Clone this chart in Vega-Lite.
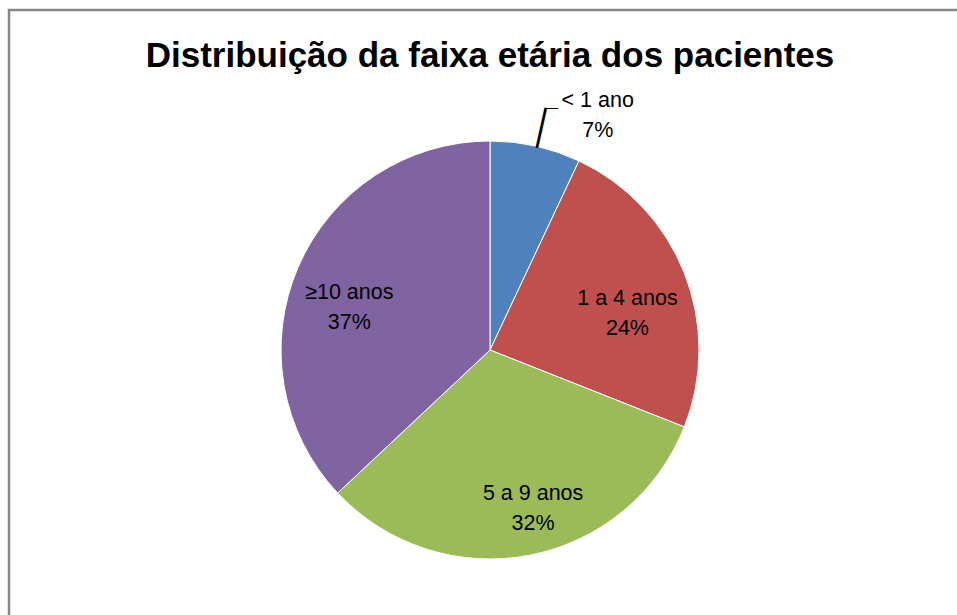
{
  "$schema": "https://vega.github.io/schema/vega-lite/v6.json",
  "autosize": {"type": "none"},
  "padding": {"left": 9, "top": 10, "right": -14, "bottom": -75},
  "width": 962,
  "height": 680,
  "background": "white",
  "view": {"stroke": "#868686", "strokeWidth": 2.5, "fill": "white"},
  "title": {
    "text": "Distribuição da faixa etária dos pacientes",
    "font": "Liberation Sans",
    "fontSize": 35,
    "fontWeight": "bold",
    "color": "#000000",
    "anchor": "middle",
    "frame": "group",
    "baseline": "alphabetic",
    "offset": -92
  },
  "data": {
    "values": [
      {"faixa": "< 1 ano", "pct": 7, "order": 1, "rotulo": "< 1 ano\n7%"},
      {"faixa": "1 a 4 anos", "pct": 24, "order": 2, "rotulo": "1 a 4 anos\n24%"},
      {"faixa": "5 a 9 anos", "pct": 32, "order": 3, "rotulo": "5 a 9 anos\n32%"},
      {"faixa": "≥10 anos", "pct": 37, "order": 4, "rotulo": "≥10 anos\n37%"}
    ]
  },
  "encoding": {
    "theta": {"field": "pct", "type": "quantitative", "stack": true},
    "order": {"field": "order", "type": "quantitative"}
  },
  "layer": [
    {
      "mark": {"type": "arc", "outerRadius": 209, "stroke": "white", "strokeWidth": 1},
      "encoding": {
        "color": {
          "field": "faixa",
          "type": "nominal",
          "legend": null,
          "scale": {
            "domain": ["< 1 ano", "1 a 4 anos", "5 a 9 anos", "≥10 anos"],
            "range": ["#4F81BD", "#C0504D", "#9BBB59", "#8064A2"]
          }
        }
      }
    },
    {
      "mark": {
        "type": "text",
        "radius": 150,
        "font": "Liberation Sans",
        "fontSize": 21.5,
        "lineHeight": 30,
        "lineBreak": "\n",
        "color": "#000000",
        "align": "center",
        "baseline": "middle",
        "dx": {"expr": "datum.order == 1 ? 75 : datum.order == 2 ? -2 : datum.order == 3 ? 15 : -3"},
        "dy": {"expr": "datum.order == 1 ? -103 : datum.order == 2 ? 4 : datum.order == 3 ? -3 : 3"}
      },
      "encoding": {"text": {"field": "rotulo", "type": "nominal"}}
    },
    {
      "mark": {
        "type": "text",
        "radius": 228,
        "font": "Liberation Sans",
        "fontSize": 41,
        "angle": -77.4,
        "color": "#000000",
        "align": "center",
        "baseline": "middle"
      },
      "encoding": {
        "text": {"condition": {"test": "datum.order == 1", "value": "—"}, "value": ""}
      }
    },
    {
      "mark": {
        "type": "text",
        "radius": 249,
        "font": "Liberation Sans",
        "fontSize": 12,
        "color": "#000000",
        "align": "center",
        "baseline": "middle",
        "dx": 8,
        "dy": 1
      },
      "encoding": {
        "text": {"condition": {"test": "datum.order == 1", "value": "—"}, "value": ""}
      }
    }
  ]
}
